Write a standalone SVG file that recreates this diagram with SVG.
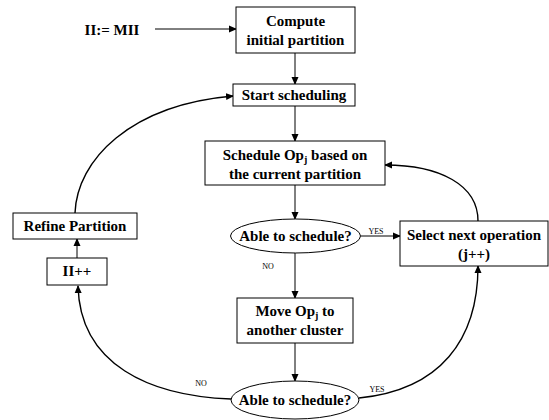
<svg xmlns="http://www.w3.org/2000/svg" width="549" height="420" viewBox="0 0 549 420">
<defs>
<marker id="ah" markerWidth="8" markerHeight="8" refX="7" refY="4" orient="auto" markerUnits="userSpaceOnUse">
<path d="M0,0.5 L8,4 L0,7.5 Z" fill="#000"/>
</marker>
<style>
.box{fill:#fff;stroke:#000;stroke-width:1}
.t{font-family:'Liberation Serif','Times New Roman',Times,serif;font-weight:700;font-size:15px;fill:#000;text-anchor:middle}
.s{font-family:'Liberation Serif','Times New Roman',Times,serif;font-size:8px;fill:#000;text-anchor:middle}
.c{fill:none;stroke:#000;stroke-width:1;marker-end:url(#ah)}
.cc{fill:none;stroke:#000;stroke-width:1.4;marker-end:url(#ah)}
</style>
</defs>
<rect width="549" height="420" fill="#fff"/>
<g id="connectors">
<line class="c" x1="155" y1="29" x2="236" y2="29"/>
<line class="c" x1="295" y1="53" x2="295" y2="84"/>
<line class="c" x1="295" y1="106" x2="295" y2="141"/>
<line class="c" x1="295" y1="185" x2="295" y2="219"/>
<line class="c" x1="361" y1="236" x2="400" y2="236"/>
<line class="c" x1="295" y1="253" x2="295" y2="298"/>
<line class="c" x1="295" y1="343" x2="295" y2="381"/>
<line class="c" x1="77" y1="258" x2="77" y2="239"/>
<path class="cc" d="M231,399 C150,396 80,365 78,286"/>
<path class="cc" d="M75,213 C77,160 130,105 233,96"/>
<path class="cc" d="M478,221 C478,185 440,165 385,165"/>
<path class="cc" d="M359,398 C440,390 478,340 478,266"/>
</g>
<g id="init">
<text class="t" x="112" y="35">II:= MII</text>
</g>
<g id="compute">
<rect class="box" x="236" y="7" width="119" height="46"/>
<text class="t" x="295.5" y="26">Compute</text>
<text class="t" x="295.5" y="45">initial partition</text>
</g>
<g id="start">
<rect class="box" x="233" y="84" width="122" height="22"/>
<text class="t" x="294" y="100">Start scheduling</text>
</g>
<g id="schedule">
<rect class="box" x="205" y="141" width="180" height="44"/>
<text class="t" x="295" y="160">Schedule Op<tspan font-size="10" dy="3">j</tspan><tspan dy="-3"> based on</tspan></text>
<text class="t" x="295" y="179">the current partition</text>
</g>
<g id="able1">
<ellipse class="box" cx="295.5" cy="236" rx="65" ry="17"/>
<text class="t" x="295.5" y="241">Able to schedule?</text>
</g>
<g id="select">
<rect class="box" x="400" y="221" width="148" height="45"/>
<text class="t" x="474" y="240">Select next operation</text>
<text class="t" x="474" y="259">(j++)</text>
</g>
<g id="move">
<rect class="box" x="237" y="298" width="116" height="45"/>
<text class="t" x="295" y="316">Move Op<tspan font-size="10" dy="3">j</tspan><tspan dy="-3"> to</tspan></text>
<text class="t" x="295" y="335">another cluster</text>
</g>
<g id="able2">
<ellipse class="box" cx="295" cy="400" rx="64" ry="19"/>
<text class="t" x="295" y="405">Able to schedule?</text>
</g>
<g id="refine">
<rect class="box" x="13" y="213" width="124" height="26"/>
<text class="t" x="75" y="231">Refine Partition</text>
</g>
<g id="iipp">
<rect class="box" x="47" y="258" width="60" height="27"/>
<text class="t" x="77" y="276">II++</text>
</g>
<g id="labels">
<text class="s" x="376" y="234">YES</text>
<text class="s" x="268" y="269">NO</text>
<text class="s" x="201" y="386">NO</text>
<text class="s" x="377" y="392">YES</text>
</g>
</svg>
